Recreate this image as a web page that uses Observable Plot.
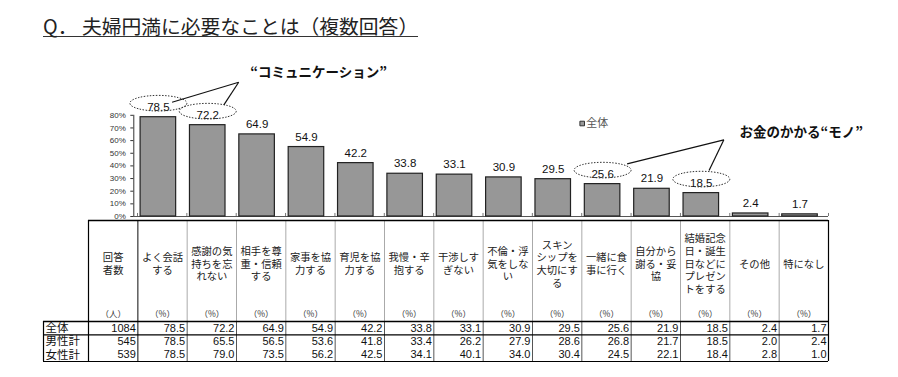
<!DOCTYPE html>
<html>
<head>
<meta charset="utf-8">
<script src="https://cdn.jsdelivr.net/npm/d3@7"></script>
<script src="https://cdn.jsdelivr.net/npm/@observablehq/plot@0.6"></script>
<style>
  html, body { margin: 0; padding: 0; background: #fff; }
  #wrap { position: relative; width: 898px; height: 377px; overflow: hidden; background: #fff; }
  #title { position: absolute; left: 43px; top: 16px; font-family: "Noto Sans CJK JP", sans-serif; font-size: 19.8px; line-height: 20px; color: #222; border-bottom: 1px solid #333; white-space: nowrap; }
  #chart { position: absolute; left: 0; top: 40px; }
  #table { position: absolute; left: 0; top: 220px; }
</style>
</head>
<body>
<div id="wrap">
  <div id="title">Q． 夫婦円満に必要なことは（複数回答）</div>
  <div id="chart"></div>
  <div id="table"></div>
</div>
<script>
// ---- data ----
const categories = ["よく会話する","感謝の気持ちを忘れない","相手を尊重・信頼する","家事を協力する","育児を協力する","我慢・辛抱する","干渉しすぎない","不倫・浮気をしない","スキンシップを大切にする","一緒に食事に行く","自分から謝る・妥協","結婚記念日・誕生日などにプレゼントをする","その他","特になし"];
const headerLabels = ["よく会話\nする","感謝の気\n持ちを忘\nれない","相手を尊\n重・信頼\nする","家事を協\n力する","育児を協\n力する","我慢・辛\n抱する","干渉しす\nぎない","不倫・浮\n気をしな\nい","スキン\nシップを\n大切にす\nる","一緒に食\n事に行く","自分から\n謝る・妥\n協","結婚記念\n日・誕生\n日などに\nプレゼン\nトをする","その他","特になし"];
const overall = [78.5,72.2,64.9,54.9,42.2,33.8,33.1,30.9,29.5,25.6,21.9,18.5,2.4,1.7];
const male    = [78.5,65.5,56.5,53.6,41.8,33.4,26.2,27.9,28.6,26.8,21.7,18.5,2.0,2.4];
const female  = [78.5,79.0,73.5,56.2,42.5,34.1,40.1,34.0,30.4,24.5,22.1,18.4,2.8,1.0];
const rowLabels = ["全体","男性計","女性計"];
const respondents = [1084,545,539];
const respondentsHeader = "回答\n者数";
const unitPeople = "（人）";
const unitPct = "（%）";
const yTicks = [0,10,20,30,40,50,60,70,80];
const seriesName = "全体";
// highlighted bars (dotted ellipses) and callouts
const highlighted = [0,1,9,11];
const callouts = [
  {text: "“コミュニケーション”", x: 3.67, y: 114.0},
  {text: "お金のかかる“モノ”", x: 13.45, y: 66.6}
];
const calloutLinks = [
  {x1: 2.05, y1: 106.1, x2: 0.70, y2: 90.3},
  {x1: 2.05, y1: 106.1, x2: 1.75, y2: 88.3},
  {x1: 11.88, y1: 60.6, x2: 9.92, y2: 41.6},
  {x1: 11.88, y1: 60.6, x2: 11.58, y2: 36.3}
];
const legendPos = {x: 9.01, y: 73.5};

// ---- derived tables ----
const bars = overall.map((value, i) => ({i, value, name: categories[i]}));
const ellipses = highlighted.map(i => bars[i]);
const rows = [overall, male, female];
const cells = [];
rows.forEach((vals, r) => {
  cells.push({col: -1, r, text: String(respondents[r])});
  vals.forEach((v, c) => cells.push({col: c, r, text: v.toFixed(1)}));
});
const headers = [{col: -1, text: respondentsHeader}].concat(headerLabels.map((t, c) => ({col: c, text: t})));
const units = [{col: -1, text: unitPeople}].concat(headerLabels.map((t, c) => ({col: c, text: unitPct})));

const latin = "'Liberation Sans', 'Noto Sans CJK JP', sans-serif";
const jp = "'Noto Sans CJK JP', sans-serif";
const shift = -3.8;

function ellipseSymbol(rx, ry) {
  const k = 0.5523;
  return {draw(ctx) {
    ctx.moveTo(rx, 0);
    ctx.bezierCurveTo(rx, ry * k, rx * k, ry, 0, ry);
    ctx.bezierCurveTo(-rx * k, ry, -rx, ry * k, -rx, 0);
    ctx.bezierCurveTo(-rx, -ry * k, -rx * k, -ry, 0, -ry);
    ctx.bezierCurveTo(rx * k, -ry, rx, -ry * k, rx, 0);
    ctx.closePath();
  }};
}

// ---- chart ----
const chart = Plot.plot({
  width: 898,
  height: 180,
  marginLeft: 133.3,
  marginRight: 70,
  marginTop: 74.8,
  marginBottom: 4,
  style: {fontFamily: latin, fontSize: "8px", color: "#333", background: "transparent", overflow: "visible"},
  x: {domain: [0, categories.length], range: [137, 828], axis: null},
  y: {domain: [0, 80], ticks: yTicks, tickFormat: d => d + "%", tickSize: 3, tickPadding: 5, line: true, label: null},
  marks: [
    Plot.ruleY([0], {stroke: "#555", strokeWidth: 1}),
    Plot.ruleX(d3.range(categories.length + 1), {y1: 0, y2: 2.4, stroke: "#777"}),
    Plot.rectY(bars, {x1: d => d.i + 0.14, x2: d => d.i + 0.86, y1: 0, y2: "value", dx: shift, fill: "#979797", stroke: "#222", strokeWidth: 1.2}),
    Plot.text(bars, {x: d => d.i + 0.5, y: "value", text: d => d.value.toFixed(1), dx: shift, dy: -6.5, lineAnchor: "bottom", fontSize: 11.5, fill: "#111"}),
    Plot.dot(ellipses, {x: d => d.i + 0.5, y: "value", dx: shift, dy: -14, symbol: ellipseSymbol(28.5, 7.8), fill: "none", stroke: "#333", strokeWidth: 1, strokeDasharray: "1.5,1.5"}),
    Plot.link(calloutLinks, {x1: "x1", y1: "y1", x2: "x2", y2: "y2", stroke: "#111", strokeWidth: 1.2}),
    Plot.text(callouts, {x: "x", y: "y", text: "text", fontWeight: "bold", fontSize: 13.5, fontFamily: jp, fill: "#111"}),
    Plot.dot([legendPos], {x: "x", y: "y", symbol: "square", r: 2.6, fill: "#999", stroke: "#333", strokeWidth: 1}),
    Plot.text([legendPos], {x: "x", y: "y", text: () => seriesName, textAnchor: "start", dx: 4, fontSize: 11, fontFamily: jp, fill: "#555"})
  ]
});
document.getElementById("chart").append(chart);

// ---- table ----
const headTop = -7.575; // header top in row units
const labelLeft = -1.912; // row-label column left
const table = Plot.plot({
  width: 898,
  height: 157,
  marginLeft: 43,
  marginRight: 70,
  marginTop: 0,
  marginBottom: 0,
  style: {fontFamily: latin, fontSize: "11px", color: "#111", background: "transparent", overflow: "visible"},
  x: {domain: [-1, categories.length], range: [88, 828], axis: null},
  y: {domain: [0, 3], range: [101, 141], axis: null},
  marks: [
    Plot.ruleX(d3.range(1, categories.length), {y1: headTop, y2: 0, stroke: "#aaa", strokeWidth: 1}),
    Plot.ruleX(d3.range(1, categories.length), {y1: 0, y2: 3, stroke: "#555", strokeWidth: 1}),
    Plot.ruleX([0], {y1: headTop, y2: 3, stroke: "#444", strokeWidth: 1.3}),
    Plot.ruleX([-1, categories.length], {y1: headTop, y2: 3, stroke: "#000", strokeWidth: 1.2}),
    Plot.ruleX([labelLeft], {y1: 0, y2: 3, stroke: "#000", strokeWidth: 1.2}),
    Plot.ruleY([headTop], {x1: -1, x2: categories.length, stroke: "#000", strokeWidth: 1.3}),
    Plot.ruleY([0], {x1: labelLeft, x2: categories.length, stroke: "#000", strokeWidth: 1.6}),
    Plot.ruleY([1, 3], {x1: labelLeft, x2: categories.length, stroke: "#000", strokeWidth: 1.1}),
    Plot.text(headers, {x: d => d.col + 0.5, y: -4.35, text: "text", fontSize: 10.3, lineHeight: 1.23, fontFamily: jp, fill: "#222"}),
    Plot.text(units, {x: d => d.col + 0.5, y: -0.52, text: "text", fontSize: 8.5, fontFamily: jp, fill: "#333"}),
    Plot.text(cells, {x: d => d.col + 1, y: d => d.r + 0.5, text: "text", textAnchor: "end", dx: -2, fontSize: 11, fill: "#111"}),
    Plot.text(rowLabels.map((t, r) => ({t, r})), {x: labelLeft, y: d => d.r + 0.5, text: "t", textAnchor: "start", dx: 2, fontSize: 11.5, fontFamily: jp, fill: "#111"})
  ]
});
document.getElementById("table").append(table);
</script>
</body>
</html>
